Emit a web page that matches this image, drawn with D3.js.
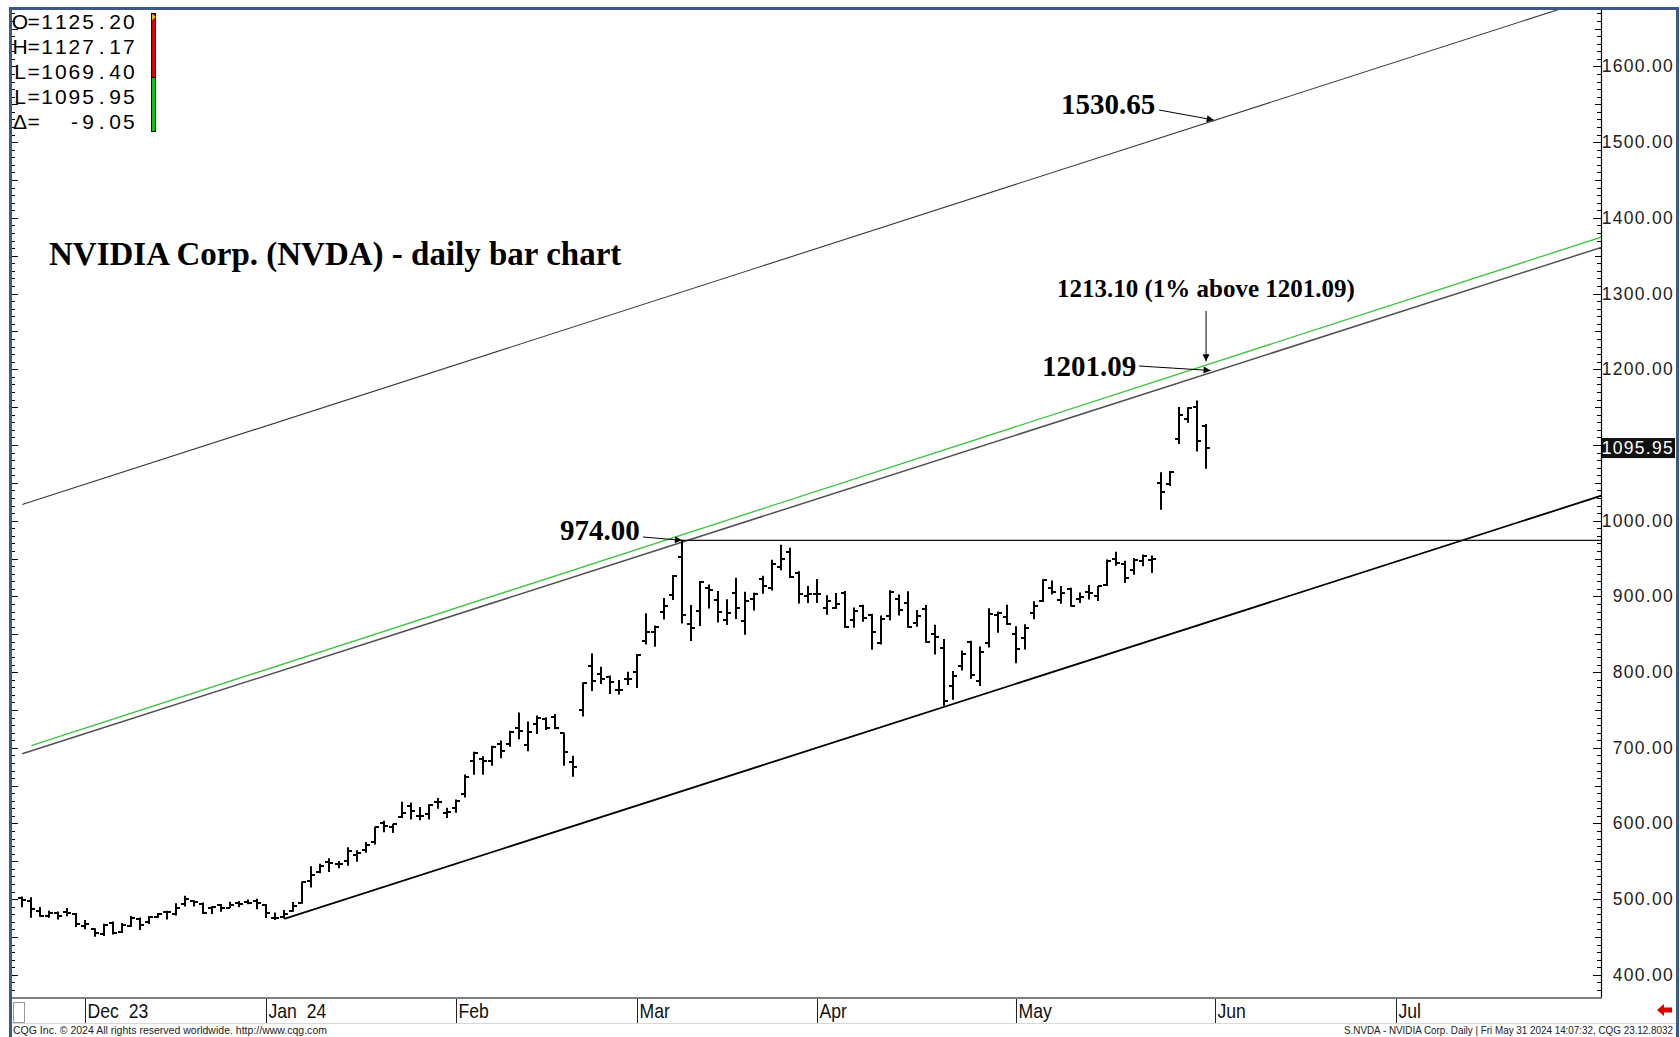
<!DOCTYPE html>
<html><head><meta charset="utf-8">
<script src="https://cdn.jsdelivr.net/npm/d3@7"></script>
<style>html,body{margin:0;padding:0;background:#fff;overflow:hidden}svg{display:block}</style>
</head><body>
<svg id="c" width="1680" height="1037"></svg>
<script>
// ---------------- DATA ----------------
const dates = [
"2023-11-21","2023-11-22","2023-11-24","2023-11-27","2023-11-28","2023-11-29","2023-11-30",
"2023-12-01","2023-12-04","2023-12-05","2023-12-06","2023-12-07","2023-12-08","2023-12-11","2023-12-12","2023-12-13","2023-12-14","2023-12-15",
"2023-12-18","2023-12-19","2023-12-20","2023-12-21","2023-12-22","2023-12-26","2023-12-27","2023-12-28","2023-12-29",
"2024-01-02","2024-01-03","2024-01-04","2024-01-05","2024-01-08","2024-01-09","2024-01-10","2024-01-11","2024-01-12",
"2024-01-16","2024-01-17","2024-01-18","2024-01-19","2024-01-22","2024-01-23","2024-01-24","2024-01-25","2024-01-26",
"2024-01-29","2024-01-30","2024-01-31","2024-02-01","2024-02-02","2024-02-05","2024-02-06","2024-02-07","2024-02-08","2024-02-09",
"2024-02-12","2024-02-13","2024-02-14","2024-02-15","2024-02-16","2024-02-20","2024-02-21","2024-02-22","2024-02-23",
"2024-02-26","2024-02-27","2024-02-28","2024-02-29","2024-03-01","2024-03-04","2024-03-05","2024-03-06","2024-03-07","2024-03-08",
"2024-03-11","2024-03-12","2024-03-13","2024-03-14","2024-03-15","2024-03-18","2024-03-19","2024-03-20","2024-03-21","2024-03-22",
"2024-03-25","2024-03-26","2024-03-27","2024-03-28","2024-04-01","2024-04-02","2024-04-03","2024-04-04","2024-04-05",
"2024-04-08","2024-04-09","2024-04-10","2024-04-11","2024-04-12","2024-04-15","2024-04-16","2024-04-17","2024-04-18","2024-04-19",
"2024-04-22","2024-04-23","2024-04-24","2024-04-25","2024-04-26","2024-04-29","2024-04-30","2024-05-01","2024-05-02","2024-05-03",
"2024-05-06","2024-05-07","2024-05-08","2024-05-09","2024-05-10","2024-05-13","2024-05-14","2024-05-15","2024-05-16","2024-05-17",
"2024-05-20","2024-05-21","2024-05-22","2024-05-23","2024-05-24","2024-05-28","2024-05-29","2024-05-30","2024-05-31"];

const opens = [501,498,484.7,478,482,483,480,
465,460,454,469,457,465,474,470,476,483,481,
494,497,494,488,492,489,495,496,498,
492,474.8,477,484.6,495,524,536,549,546,
550,558,565,575,600,595,609,623,609.6,
612,629,614,621,639,682,685,683,705,705,
726,704,732,738,741,719,681,750,807.9,
797,793.8,776,790.9,800,841,852.7,880,901.6,951.4,
864,880.5,910.5,895.8,869.3,903.9,867,897,923,911.4,
939.4,958.5,931,900,903,884.5,884.8,904,868.6,
887,874.8,839,874.2,896,891,864.3,883.4,849.7,831.5,
781,807.7,839.5,788.7,838.2,875.9,872.4,850.8,844.5,877.9,
894,911.7,895.2,909.1,896.9,906,900.8,915,949,943,
935.3,946.6,947.7,1050,1048.3,1107.6,1134,1150,1125.2];

const highs = [503,502,489,484,483,487.7,481,
472,461,467,470,468,477,475,477,481,484,494,
504,498,495,490,493,496,496.9,498.8,499.97,
492.9,481.8,485,495.5,522.7,543,546,553.5,549.7,
568,564,575,595,603,599,628,627,621,
624.9,633,620,631,664,694,688,702,709,721.8,
746,734,742,739.8,744,719.6,688.9,785.75,823.9,
806.5,794.8,789,799.9,823,876.95,860.9,897.2,927.7,974.0,
887.9,919.6,915,906.5,895.5,924,905.4,904,926.5,947.8,
967.7,963.75,932.4,913,922.25,900.9,903.7,906.3,884.8,
888.3,876.4,874,907.4,901.7,906.2,881.2,887.8,861.9,843.2,
800.7,827.7,840.8,833.2,883.7,879.3,888.2,860,862.5,892.8,
922,920.3,913.1,910.6,904.4,914.3,913.2,948,958.2,946.3,
950.1,954.6,953.3,1063.2,1065.1,1149.4,1149.3,1158.19,1127.17];

const lows = [490,476,477.5,476,474,478,464,
461,451,452,454,456,464,460,468,476,474,479,
491,491,481,481,484,489,490,494,487.5,
475.9,473.3,475,484,494.8,516,534.9,536.6,541.6,
545,550,562,573,589,588,608,606,605,
606,620,608,615,635,665,665,677,687,702,
712,696,719,724,725,677,662.5,742,775.7,
785,771.6,771,783.5,779.6,837,834,870,896,865,
841.7,861.5,884.6,866,863,870.8,850.1,882,904,908.3,
935.1,925,891.2,891.9,892,876.3,884,859,859.3,
867.3,830.2,837.1,869.3,875.3,859.3,860.6,839.5,824.0,756.06,
764,802.6,791.8,782.2,833,852.7,863,812.5,830.4,870.4,
893.2,903.1,891,886.9,892,896.6,894.7,914.3,941.1,918.5,
929.2,940.6,931.5,1015,1046.6,1102.1,1130,1091.9,1069.4];

const closes = [499,487,477.8,482,478.2,481.4,467.7,
467.65,455.1,465.66,455.03,465.96,475.06,466.27,476.57,480.88,483.5,488.9,
500.77,496.04,481.11,489.9,488.3,492.79,494.17,495.22,495.22,
481.68,475.69,479.98,490.97,522.53,531.4,543.5,548.22,547.1,
563.82,560.53,571.07,594.91,596.54,598.73,613.62,616.17,610.31,
624.65,627.74,615.27,630.27,661.6,693.32,682.23,700.99,696.41,721.33,
722.48,721.28,739.0,726.58,726.13,694.52,674.72,785.38,788.17,
790.92,787.01,776.63,791.12,822.79,852.37,859.64,887.0,926.69,875.28,
857.74,919.13,908.88,879.44,878.37,884.55,893.98,903.72,914.35,942.89,
950.02,925.61,902.5,903.56,903.63,894.52,889.64,859.05,880.08,
871.33,853.54,870.39,906.16,881.86,860.01,874.15,840.35,846.71,762.0,
795.18,824.23,796.77,826.32,877.35,877.57,864.02,830.41,858.17,887.89,
921.4,905.54,904.12,887.47,898.78,903.99,913.56,946.3,943.59,924.79,
947.8,953.86,949.5,1037.99,1064.69,1139.01,1148.25,1105.0,1095.95];

const monthTickDates  = ["2023-12-01","2024-01-02","2024-02-01","2024-03-01","2024-04-01","2024-05-01","2024-06-03","2024-07-01"];
const monthTickLabels = ["Dec  23","Jan  24","Feb","Mar","Apr","May","Jun","Jul"];

const priceTickValues = [400,500,600,700,800,900,1000,1100,1200,1300,1400,1500,1600];

const quoteLabels = ["O=","H=","L=","L=","\u0394="];
const quoteValues = ["1125.20","1127.17","1069.40","1095.95","-9.05"];
const lastPrice = 1095.95;

// channel lines: [date, value] anchors
const upperLine  = [["2023-11-21",1021.4],["2024-08-01",1694.5]];
const middleLine = [["2023-11-21",692.1],["2024-08-01",1362.0]];
const greenLine  = [["2023-11-22",702.9],["2024-08-01",1375.6]];
const lowerLine  = [["2024-01-04",474.0],["2024-08-01",1034.0]];
const resistLine = [["2024-03-08",974.0],["2024-08-01",974.0]];

const notes = [
  {text:"1530.65", date:"2024-05-31", value:1530.65, dayShift:0.85},
  {text:"1201.09", date:"2024-05-31", value:1201.09, dayShift:0.5},
  {text:"974.00",  date:"2024-03-08", value:974.00, dayShift:0}
];
const noteAbove = {text:"1213.10 (1% above 1201.09)", date:"2024-05-31", value:1213.10};
const title = "NVIDIA Corp. (NVDA) - daily bar chart";

// ---------------- LAYOUT ----------------
const W=1680,H=1037;
const plot = {left:12, right:1601, top:10, bottom:997};
const svg = d3.select("#c");

function dayIndex(ds){
  const i = dates.indexOf(ds);
  if(i>=0) return i;
  let d = new Date(dates[dates.length-1]+"T12:00:00Z");
  const target = new Date(ds+"T12:00:00Z");
  let n = dates.length-1;
  while(d < target){
    d = new Date(d.getTime()+86400000);
    const wd = d.getUTCDay();
    if(wd!==0 && wd!==6) n++;
  }
  return n;
}

const x = d3.scaleLinear().domain([-1.13,174.7]).range([plot.left, plot.right]);
const y = d3.scaleLinear().domain([370.8,1674.6]).range([plot.bottom, plot.top]);

svg.append("rect").attr("width",W).attr("height",H).attr("fill","#fff");

const defs = svg.append("defs");
defs.append("clipPath").attr("id","plotclip").append("rect")
  .attr("x",plot.left).attr("y",plot.top).attr("width",plot.right-plot.left).attr("height",plot.bottom-plot.top);
defs.append("marker").attr("id","ah").attr("viewBox","0 0 10 10").attr("refX",10).attr("refY",5)
  .attr("markerWidth",9).attr("markerHeight",7).attr("markerUnits","userSpaceOnUse").attr("orient","auto")
  .append("path").attr("d","M0,0 L10,5 L0,10 Z").attr("fill","#000");

// ---------- price axis ticks ----------
const ax = svg.append("g");
d3.range(380,1680,10).forEach(v=>{
  const yy = Math.round(y(v))+0.5;
  if(yy<plot.top||yy>plot.bottom) return;
  const len = v%100===0?8:(v%50===0?6:4);
  ax.append("line").attr("x1",plot.right-len).attr("x2",plot.right).attr("y1",yy).attr("y2",yy).attr("stroke","#000").attr("stroke-width",1);
  const llen = v%50===0?6:3;
  ax.append("line").attr("x1",plot.left).attr("x2",plot.left+llen).attr("y1",yy).attr("y2",yy).attr("stroke","#000").attr("stroke-width",1);
});
ax.selectAll("text.pl").data(priceTickValues).enter().append("text")
  .attr("x",1674).attr("y",d=>y(d)+6).attr("text-anchor","end")
  .attr("font-family","Liberation Sans, Arial, sans-serif").attr("font-size",17.5).attr("letter-spacing","1.3px")
  .attr("fill","#222").text(d=>d3.format(".2f")(d));

svg.append("line").attr("x1",plot.right+0.5).attr("x2",plot.right+0.5).attr("y1",plot.top).attr("y2",plot.bottom+1).attr("stroke","#000").attr("stroke-width",1.2);

// last price box
svg.append("rect").attr("x",plot.right+1).attr("y",y(lastPrice)-10).attr("width",73).attr("height",20).attr("fill","#111");
svg.append("text").attr("x",1674).attr("y",y(lastPrice)+6).attr("text-anchor","end")
  .attr("font-family","Liberation Sans, Arial, sans-serif").attr("font-size",17.5).attr("letter-spacing","1.3px")
  .attr("fill","#fff").text(d3.format(".2f")(lastPrice));

// ---------- lines ----------
const pg = svg.append("g").attr("clip-path","url(#plotclip)");
const lineGen = d3.line().x(d=>x(dayIndex(d[0]))).y(d=>y(d[1]));
pg.append("path").datum(upperLine).attr("d",lineGen).attr("stroke","#3a3a3a").attr("stroke-width",1.1).attr("fill","none");
pg.append("path").datum(greenLine).attr("d",lineGen).attr("stroke","#3ec43e").attr("stroke-width",1.3).attr("fill","none");
pg.append("path").datum(middleLine).attr("d",lineGen).attr("stroke","#505050").attr("stroke-width",1.5).attr("fill","none");
pg.append("path").datum(lowerLine).attr("d",lineGen).attr("stroke","#000").attr("stroke-width",1.8).attr("fill","none");
pg.append("path").datum(resistLine).attr("d",lineGen).attr("stroke","#111").attr("stroke-width",1.1).attr("fill","none");

// ---------- OHLC bars ----------
const bars = pg.append("g").attr("stroke","#000").attr("stroke-width",2);
dates.forEach((d,i)=>{
  const xx = Math.round(x(i));
  bars.append("line").attr("x1",xx).attr("x2",xx).attr("y1",y(highs[i])-0.5).attr("y2",y(lows[i])+0.5);
  bars.append("line").attr("x1",xx-4).attr("x2",xx).attr("y1",Math.round(y(opens[i]))).attr("y2",Math.round(y(opens[i])));
  bars.append("line").attr("x1",xx).attr("x2",xx+4).attr("y1",Math.round(y(closes[i]))).attr("y2",Math.round(y(closes[i])));
});

// ---------- annotations ----------
const serif = "Liberation Serif, Times New Roman, serif";
svg.append("text").attr("x",49).attr("y",265).attr("font-family",serif).attr("font-weight","bold").attr("font-size",33).attr("fill","#000").text(title);

function tip(n){return [x(dayIndex(n.date)+(n.dayShift||0)), y(n.value)];}
(function(){
  const t = tip(notes[0]);
  svg.append("text").attr("x",1061).attr("y",114).attr("font-family",serif).attr("font-weight","bold").attr("font-size",29).text(notes[0].text);
  svg.append("line").attr("x1",1159).attr("y1",110).attr("x2",t[0]).attr("y2",t[1]+1).attr("stroke","#000").attr("stroke-width",1).attr("marker-end","url(#ah)");
})();
(function(){
  const t = tip(notes[1]);
  svg.append("text").attr("x",1042).attr("y",376).attr("font-family",serif).attr("font-weight","bold").attr("font-size",29).text(notes[1].text);
  svg.append("line").attr("x1",1139).attr("y1",366).attr("x2",t[0]).attr("y2",t[1]+2).attr("stroke","#000").attr("stroke-width",1).attr("marker-end","url(#ah)");
})();
(function(){
  const t = tip(notes[2]);
  svg.append("text").attr("x",560).attr("y",540).attr("font-family",serif).attr("font-weight","bold").attr("font-size",29).text(notes[2].text);
  svg.append("line").attr("x1",643).attr("y1",537).attr("x2",t[0]).attr("y2",t[1]).attr("stroke","#000").attr("stroke-width",1).attr("marker-end","url(#ah)");
})();
(function(){
  const tx = x(dayIndex(noteAbove.date)), ty = y(noteAbove.value);
  svg.append("text").attr("x",1057).attr("y",297).attr("font-family",serif).attr("font-weight","bold").attr("font-size",25).text(noteAbove.text);
  svg.append("line").attr("x1",tx).attr("y1",311).attr("x2",tx).attr("y2",ty+2).attr("stroke","#000").attr("stroke-width",1).attr("marker-end","url(#ah)");
})();

// ---------- quote box (top-left), fixed character cells ----------
const q = svg.append("g").attr("font-family","Liberation Sans, Arial, sans-serif").attr("font-size",21).attr("fill","#000");
const cell = 13.6, cell0 = 20, nCells = 9;
quoteLabels.forEach((l,i)=>{
  const by = 29 + i*25;
  const valChars = quoteValues[i].split("");
  const chars = l.split("").map((c,k)=>({c,k}))
    .concat(valChars.map((c,k)=>({c,k:nCells-valChars.length+k})));
  q.append("text").attr("y",by).attr("text-anchor","middle")
    .attr("x",chars.map(d=>cell0+d.k*cell).join(" "))
    .text(chars.map(d=>d.c).join(""));
});
svg.append("rect").attr("x",151.5).attr("y",13.5).attr("width",4).attr("height",64).attr("fill","#e00000").attr("stroke","#000").attr("stroke-width",1);
svg.append("rect").attr("x",151.5).attr("y",77.5).attr("width",4).attr("height",54).attr("fill","#00cc00").attr("stroke","#000").attr("stroke-width",1);
svg.append("path").attr("d","M152,14 L156,17 L152,20 Z").attr("fill","#f0c000");

// ---------- date band ----------
svg.append("line").attr("x1",plot.left).attr("x2",plot.right+1).attr("y1",998).attr("y2",998).attr("stroke","#808080").attr("stroke-width",2);
svg.append("line").attr("x1",plot.left).attr("x2",1676).attr("y1",1023.5).attr("y2",1023.5).attr("stroke","#d8d8d8").attr("stroke-width",1);
const db = svg.append("g");
monthTickDates.forEach((d,i)=>{
  const xx = Math.round(x(dayIndex(d)))+0.5;
  db.append("line").attr("x1",xx).attr("x2",xx).attr("y1",999).attr("y2",1023).attr("stroke","#222").attr("stroke-width",1);
  db.append("text").attr("transform",`translate(${xx+2},1018) scale(0.86,1)`)
    .attr("font-family","Liberation Sans, Arial, sans-serif").attr("font-size",20.5).attr("fill","#111")
    .style("white-space","pre").text(monthTickLabels[i]);
});
svg.append("rect").attr("x",13.5).attr("y",1002.5).attr("width",11).attr("height",20).attr("fill","#fff").attr("stroke","#999").attr("stroke-width",1);
svg.append("path").attr("d","M1657,1010 L1664,1004 L1664,1007.5 L1672,1007.5 L1672,1012.5 L1664,1012.5 L1664,1016 Z").attr("fill","#e00000");

// footers
svg.append("text").attr("x",13).attr("y",1034).attr("font-family","Liberation Sans, Arial, sans-serif").attr("font-size",11).attr("fill","#222")
  .attr("textLength",314).attr("lengthAdjust","spacingAndGlyphs")
  .text("CQG Inc. \u00a9 2024 All rights reserved worldwide. http://www.cqg.com");
svg.append("text").attr("x",1344).attr("y",1034).attr("font-family","Liberation Sans, Arial, sans-serif").attr("font-size",11).attr("fill","#222")
  .attr("textLength",329).attr("lengthAdjust","spacingAndGlyphs")
  .text("S.NVDA - NVIDIA Corp. Daily | Fri May 31 2024 14:07:32, CQG 23.12.8032");

// ---------- frame ----------
const fc = "#3b5a86";
svg.append("line").attr("x1",10.5).attr("x2",10.5).attr("y1",7).attr("y2",H).attr("stroke",fc).attr("stroke-width",3);
svg.append("line").attr("x1",1677.5).attr("x2",1677.5).attr("y1",7).attr("y2",H).attr("stroke",fc).attr("stroke-width",3);
svg.append("line").attr("x1",9).attr("x2",1679).attr("y1",8.5).attr("y2",8.5).attr("stroke",fc).attr("stroke-width",3);
</script>
</body></html>
